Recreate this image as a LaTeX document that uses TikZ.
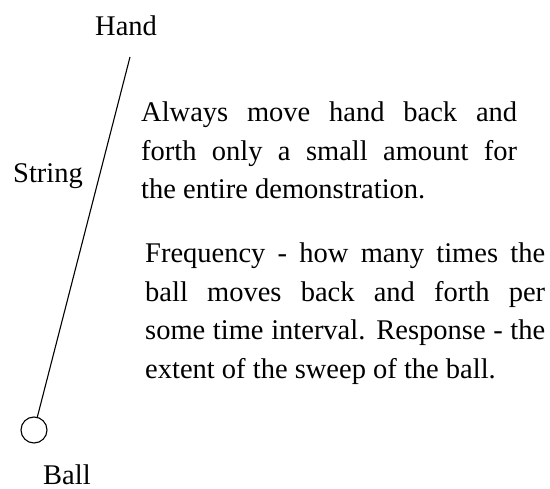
\documentclass[tikz,border=0pt]{standalone}
\usepackage{fontspec}
\setmainfont{Liberation Serif}
\begin{document}
\begin{tikzpicture}[x=1pt,y=-1pt,
  lbl/.style={inner sep=0pt,anchor=base west,font=\fontsize{28.5}{38.5}\selectfont},
  para/.style={inner sep=0pt,anchor=base west,align=justify,font=\fontsize{28.5}{38.5}\selectfont},
  wire/.style={line width=1.1pt},
  ballshape/.style={circle,draw,line width=1.1pt,minimum size=26pt,inner sep=0pt}]
\useasboundingbox (0,0) rectangle (550,489);
\coordinate (hand) at (130,57);
\node[ballshape] (ball) at (34,430) {};
\draw[wire] (hand) -- (ball);
\node[lbl] (handlbl) at (95,36) {Hand};
\node[lbl] (stringlbl) at (13,183) {String};
\node[lbl] (balllbl) at (43,485) {Ball};
\node[para,text width=376pt] (note1) at (141,122) {Always move hand back and\linebreak forth only a small amount for\linebreak the entire demonstration.};
\node[para,text width=400pt] (note2) at (145,263) {Frequency - how many times the\linebreak ball moves back and forth per\linebreak some time interval. Response - the\linebreak extent of the sweep of the ball.};
\end{tikzpicture}
\end{document}
